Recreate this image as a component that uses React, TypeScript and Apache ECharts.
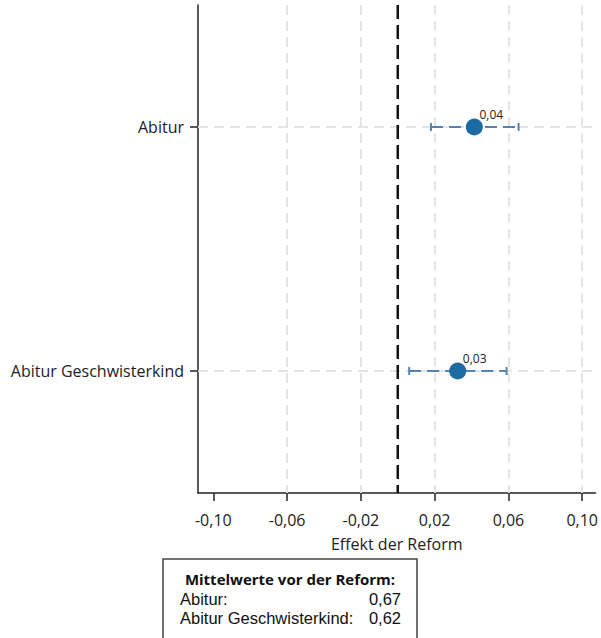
import React, { useEffect, useRef } from "react";
import * as echarts from "echarts";

const categories = ["Abitur", "Abitur Geschwisterkind"];
const estimates = [0.0415, 0.0325];
const ciLower = [0.018, 0.0062];
const ciUpper = [0.0655, 0.059];
const xTicks = [-0.1, -0.06, -0.02, 0.02, 0.06, 0.1];
const xGridValues = [-0.06, -0.02, 0.02, 0.06, 0.1];
const referenceValue = 0;
const legendTitle = "Mittelwerte vor der Reform:";
const legendNames = ["Abitur:", "Abitur Geschwisterkind:"];
const legendValues = ["0,67", "0,62"];

const FONT = "Open Sans";
const LEGEND_FONT = "Liberation Sans";
const fmt = (v: number) => v.toFixed(2).replace(".", ",");

export default function App() {
  const ref = useRef<HTMLDivElement>(null);
  useEffect(() => {
    const chart = echarts.init(ref.current!, null, { renderer: "svg" });
    const errData = categories.map((c, i) => [ciLower[i], ciUpper[i], i]);
    const ptData = categories.map((c, i) => [estimates[i], i]);
    chart.setOption({
      animation: false,
      textStyle: { fontFamily: FONT },
      grid: { left: 198, right: 3, top: 5, bottom: 145, containLabel: false },
      xAxis: {
        type: "value",
        min: -0.1083,
        max: 0.1072,
        name: "Effekt der Reform",
        nameLocation: "middle",
        nameGap: 43,
        nameTextStyle: { fontSize: 16, color: "#222", fontFamily: FONT },
        axisLine: { show: true, onZero: false, lineStyle: { color: "#222", width: 1.5 } },
        axisTick: { show: true, length: 8, customValues: xTicks, lineStyle: { color: "#222", width: 1.5 } },
        axisLabel: {
          customValues: xTicks,
          formatter: (v: number) => fmt(v),
          fontSize: 16,
          color: "#222",
          margin: 19,
          fontFamily: FONT,
        },
        splitLine: { show: false },
      },
      yAxis: {
        type: "category",
        data: categories,
        inverse: true,
        axisLine: { show: true, onZero: false, lineStyle: { color: "#222", width: 1.5 } },
        axisTick: { show: true, length: 8, alignWithLabel: true, lineStyle: { color: "#222", width: 1.5 } },
        axisLabel: { fontSize: 16, color: "#222", margin: 14, fontFamily: FONT },
        splitLine: { show: false },
      },
      series: [
        {
          type: "scatter",
          data: [],
          silent: true,
          z: 1,
          markLine: {
            silent: true,
            z: 1,
            symbol: "none",
            label: { show: false },
            lineStyle: { color: "#e4e4e4", type: [10, 6], width: 2 },
            data: [
              ...xGridValues.map((v) => ({ xAxis: v })),
              ...categories.map((c) => ({ yAxis: c })),
            ],
          },
        },
        {
          type: "custom",
          data: [[referenceValue, 0]],
          encode: { x: 0, y: 1 },
          silent: true,
          z: 2,
          renderItem: (params: any, api: any) => {
            const p = api.coord([api.value(0), 0]);
            const cs = params.coordSys;
            return {
              type: "line",
              shape: { x1: p[0], y1: cs.y, x2: p[0], y2: cs.y + cs.height },
              style: { stroke: "#111", lineWidth: 2.5, lineDash: [14, 6] },
            };
          },
        },
        {
          type: "custom",
          data: errData,
          encode: { x: [0, 1], y: 2 },
          renderItem: (params: any, api: any) => {
            const lo = api.coord([api.value(0), api.value(2)]);
            const hi = api.coord([api.value(1), api.value(2)]);
            const color = "#5483b3";
            const h = 4;
            return {
              type: "group",
              children: [
                {
                  type: "line",
                  shape: { x1: lo[0], y1: lo[1], x2: hi[0], y2: hi[1] },
                  style: { stroke: color, lineWidth: 2, lineDash: [12, 6] },
                },
                {
                  type: "line",
                  shape: { x1: lo[0], y1: lo[1] - h, x2: lo[0], y2: lo[1] + h },
                  style: { stroke: color, lineWidth: 2 },
                },
                {
                  type: "line",
                  shape: { x1: hi[0], y1: hi[1] - h, x2: hi[0], y2: hi[1] + h },
                  style: { stroke: color, lineWidth: 2 },
                },
              ],
            };
          },
          z: 3,
        },
        {
          type: "scatter",
          data: ptData,
          symbol: "circle",
          symbolSize: 17,
          itemStyle: { color: "#1d6ba3", opacity: 1 },
          label: {
            show: true,
            position: "top",
            distance: 0,
            offset: [17, 2],
            formatter: (p: any) => fmt(p.value[0]),
            fontSize: 12,
            color: "#222",
            fontFamily: FONT,
          },
          z: 4,
        },
      ],
      graphic: [
        {
          type: "rect",
          shape: { x: 163, y: 559, width: 254, height: 90 },
          style: { fill: "#fff", stroke: "#444", lineWidth: 1.5 },
        },
        {
          type: "text",
          x: 290,
          y: 579,
          style: {
            text: legendTitle,
            font: `bold 15px "${FONT}"`,
            fill: "#111",
            textAlign: "center",
            textVerticalAlign: "middle",
          },
        },
        {
          type: "text",
          x: 180,
          y: 589,
          style: {
            text: legendNames.join("\n"),
            font: `16.5px "${LEGEND_FONT}"`,
            lineHeight: 19,
            fill: "#111",
            textAlign: "left",
            textVerticalAlign: "top",
          },
        },
        {
          type: "text",
          x: 401,
          y: 589,
          style: {
            text: legendValues.join("\n"),
            font: `16.5px "${LEGEND_FONT}"`,
            lineHeight: 19,
            fill: "#111",
            textAlign: "right",
            textVerticalAlign: "top",
          },
        },
      ],
    });
    return () => chart.dispose();
  }, []);
  return (
    <div
      ref={ref}
      style={{ position: "fixed", left: 0, top: 0, width: 601, height: 638, background: "#fff" }}
    />
  );
}
